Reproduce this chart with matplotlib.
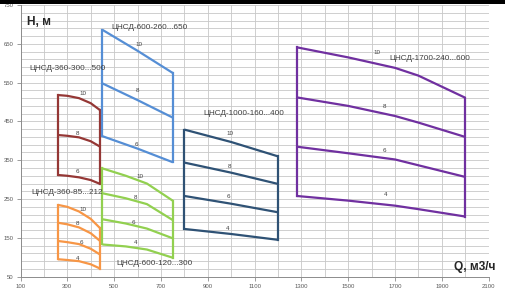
import numpy as np
import matplotlib
matplotlib.use("Agg")
import matplotlib.pyplot as plt
from matplotlib.patches import Rectangle
from matplotlib.ticker import FixedLocator

plt.rcParams['font.family'] = ['Liberation Sans', 'DejaVu Sans']

# --- данные (Q, м3/ч -> H, м) ---
q_360_300 = [260, 300, 350, 400, 440]
h_360_300 = {10: [518, 516, 510, 497, 479],
             8: [415, 413, 409, 399, 385],
             6: [312, 310, 306, 299, 289]}

q_360_85 = [260, 300, 350, 400, 440]
h_360_85 = {10: [235, 230, 218, 199, 175],
            8: [189, 185, 177, 162, 142],
            6: [142, 139, 134, 122, 107],
            4: [95, 93, 90, 82, 71]}

q_600_260 = [450, 600, 750]
h_600_260 = {10: [686, 632, 575],
             8: [548, 505, 460],
             6: [412, 380, 345]}

q_600_120 = [450, 550, 640, 750]
h_600_120 = {10: [329, 310, 290, 246],
             8: [265, 252, 237, 196],
             6: [198, 187, 174, 149],
             4: [133, 128, 120, 99]}

q_1000 = [800, 1000, 1200]
h_1000 = {10: [429, 397, 360],
          8: [344, 318, 289],
          6: [258, 238, 216],
          4: [173, 160, 145]}

q_1700 = [1280, 1500, 1700, 1800, 2000]
h_1700 = {10: [641, 615, 588, 568, 511],
          8: [512, 490, 464, 447, 410],
          6: [385, 368, 352, 337, 307],
          4: [258, 246, 233, 224, 205]}

names = ["ЦНСД-360-300...500", "ЦНСД-360-85...212", "ЦНСД-600-260...650",
         "ЦНСД-600-120...300", "ЦНСД-1000-160...400", "ЦНСД-1700-240...600"]

x_ticks = list(range(100, 2101, 200))
y_ticks = list(range(50, 751, 100))

# --- оформление ---
groups = [
    (q_360_300, h_360_300, "#953735"),
    (q_360_85, h_360_85, "#F79646"),
    (q_600_260, h_600_260, "#558ED5"),
    (q_600_120, h_600_120, "#92D050"),
    (q_1000, h_1000, "#2F5275"),
    (q_1700, h_1700, "#7030A0"),
]
# позиции подписей названий (левый край, центр по вертикали)
name_pos = [(140, 587), (148, 266), (489, 692), (510, 84), (880, 470), (1676, 612)]
# позиции подписей числа ступеней (по группам)
num_pos = [
    {10: (365, 522), 8: (345, 419), 6: (341, 322)},
    {10: (365, 224), 8: (345, 187), 6: (358, 137), 4: (342, 97)},
    {10: (607, 649), 8: (601, 529), 6: (597, 391)},
    {10: (610, 309), 8: (593, 253), 6: (581, 190), 4: (593, 137)},
    {10: (993, 418), 8: (993, 333), 6: (988, 256), 4: (984, 174)},
    {10: (1623, 627), 8: (1654, 488), 6: (1654, 374), 4: (1658, 262)},
]

W, H = 505, 296
fig = plt.figure(figsize=(W / 100, H / 100), dpi=100)
ax = fig.add_axes([20.5 / W, 1 - 276.7 / H, (488.7 - 20.5) / W, (276.7 - 5) / H])

lw = 1.6
for (q, curves, color), name, npos, (nx, ny) in zip(groups, names, num_pos, name_pos):
    keys = sorted(curves, reverse=True)
    for k in keys:
        ax.plot(q, curves[k], color=color, lw=lw, solid_capstyle='butt', zorder=3)
    top, bot = curves[keys[0]], curves[keys[-1]]
    # боковые границы области работы
    ax.plot([q[0], q[0]], [top[0], bot[0]], color=color, lw=lw, zorder=3)
    ax.plot([q[-1], q[-1]], [top[-1], bot[-1]], color=color, lw=lw, zorder=3)
    for k, (tx, ty) in npos.items():
        ax.text(tx, ty, str(k), fontsize=4.5, color="#404040",
                ha='center', va='center', zorder=4)
    ax.text(nx, ny, name, fontsize=5.9, color="#404040", ha='left', va='center', zorder=4)

ax.text(126, 707, "Н, м", fontsize=8.6, fontweight='bold', color="#262626",
        ha='left', va='center')
ax.text(1953, 75, "Q, м3/ч", fontsize=8.6, fontweight='bold', color="#262626",
        ha='left', va='center', clip_on=False)

ax.set_xlim(x_ticks[0], x_ticks[-1])
ax.set_ylim(y_ticks[0], y_ticks[-1])
ax.xaxis.set_major_locator(FixedLocator(x_ticks))
ax.xaxis.set_minor_locator(FixedLocator(np.arange(x_ticks[0], x_ticks[-1] + 1, 100)))
ax.yaxis.set_major_locator(FixedLocator(y_ticks))
ax.yaxis.set_minor_locator(FixedLocator(np.arange(y_ticks[0], y_ticks[-1] + 1, 20)))
ax.grid(True, which='both', color="#C8C8C8", lw=0.6, zorder=0)
ax.set_axisbelow(True)

for s in ('top', 'right'):
    ax.spines[s].set_visible(False)
for s in ('left', 'bottom'):
    ax.spines[s].set_color("#8C8C8C")
    ax.spines[s].set_linewidth(0.7)
ax.tick_params(which='major', length=3, width=0.6, color="#8C8C8C",
               labelsize=4.3, labelcolor="#595959", pad=2)
ax.tick_params(which='minor', length=0)

fig.patches.append(Rectangle((0, 1 - 4 / H), 1, 4 / H, transform=fig.transFigure,
                             facecolor='black', edgecolor='none'))

fig.savefig("out.png", dpi=100)
